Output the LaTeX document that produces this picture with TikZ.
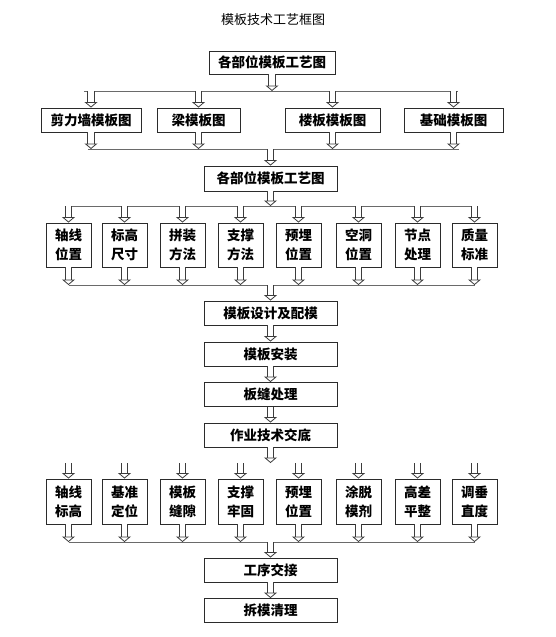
\documentclass[tikz,border=0pt]{standalone}
\usepackage{fontspec}
\setmainfont{Noto Sans CJK SC}
\usetikzlibrary{arrows.meta,positioning,calc}
\definecolor{boxline}{HTML}{2B2B2B}
\definecolor{arrline}{HTML}{3C3C3C}
\definecolor{busline}{HTML}{6A6A6A}
\tikzset{
  stepbox/.style={rectangle, draw=boxline, line width=0.9pt, fill=white, align=center,
                  inner sep=0pt, font=\fontsize{13.5}{19}\selectfont\bfseries},
  wide/.style={stepbox, minimum width=133pt, minimum height=24pt},
  small/.style={stepbox, minimum width=45pt, minimum height=44pt},
  hollow/.style={draw=arrline, line width=0.8pt, double=white, double distance=5.5pt,
                 -{Triangle[open, width=13pt, length=5.5pt, line width=0.8pt]}},
  bus/.style={draw=busline, line width=0.8pt},
}
\begin{document}
\begin{tikzpicture}[x=1pt, y=-1pt]
    \useasboundingbox (0,0) rectangle (555,637);
    \node[font=\fontsize{13}{15}\selectfont] (title) at (273,20) {模板技术工艺框图};
    \node[wide, minimum width=126pt, minimum height=23pt] (plan) at (272,62.5) {各部位模板工艺图};
    % drawings of each part
    \node[stepbox, minimum width=100pt, minimum height=24pt] (wall) at (91,120) {剪力墙模板图};
    \node[stepbox, minimum width=83pt, minimum height=24pt] (beam) at (198.5,120) {梁模板图};
    \node[stepbox, minimum width=95pt, minimum height=24pt] (slab) at (332.5,120) {楼板模板图};
    \node[stepbox, minimum width=99pt, minimum height=24pt] (found) at (453.5,120) {基础模板图};
    \node[wide, minimum height=25pt] (plan2) at (270.5,178.5) {各部位模板工艺图};
    % contents
    \node[small] (axis) at (68.5,245) {轴线\\位置};
    \node[small] (level) at (124.5,245) {标高\\尺寸};
    \node[small] (assem) at (182.5,245) {拼装\\方法};
    \node[small] (supp) at (240.5,245) {支撑\\方法};
    \node[small] (embed) at (298.5,245) {预埋\\位置};
    \node[small] (hole) at (358.5,245) {空洞\\位置};
    \node[small] (joint) at (417.5,245) {节点\\处理};
    \node[small] (qual) at (474.5,245) {质量\\标准};
    % main line
    \node[wide] (design) at (270.5,313) {模板设计及配模};
    \node[wide] (install) at (270.5,354) {模板安装};
    \node[wide] (seam) at (270.5,394.5) {板缝处理};
    \node[wide] (brief) at (270.5,435) {作业技术交底};
    % checks
    \node[small, minimum height=45pt] (axislev) at (68.5,501.5) {轴线\\标高};
    \node[small, minimum height=45pt] (datum) at (124.5,501.5) {基准\\定位};
    \node[small, minimum height=45pt] (gap) at (182.5,501.5) {模板\\缝隙};
    \node[small, minimum height=45pt] (firm) at (240.5,501.5) {支撑\\牢固};
    \node[small, minimum height=45pt] (embed2) at (298.5,501.5) {预埋\\位置};
    \node[small, minimum height=45pt] (oil) at (358.5,501.5) {涂脱\\模剂};
    \node[small, minimum height=45pt] (flat) at (417.5,501.5) {高差\\平整};
    \node[small, minimum height=45pt] (plumb) at (474.5,501.5) {调垂\\直度};
    \node[wide] (handover) at (270.5,570) {工序交接};
    \node[wide] (strip) at (270.5,610.5) {拆模清理};

    \coordinate (bus1) at (0,91);   \coordinate (bus2) at (0,149);
    \coordinate (bus3) at (0,206);  \coordinate (bus4) at (0,285);
    \coordinate (top6) at (0,463);  \coordinate (bus6) at (0,542);
    \draw[bus] ($(wall.north |- bus1)+(-7,0)$) -- ($(found.north |- bus1)+(4,0)$);
    \draw[bus] ($(wall.south |- bus2)+(-3,0)$) -- ($(found.south |- bus2)+(5,0)$);
    \draw[bus] ($(axis.north |- bus3)+(-4,0)$) -- ($(qual.north |- bus3)+(1,0)$);
    \draw[bus] (axis.south |- bus4) -- (qual.south |- bus4);
    \draw[bus] (axislev.south |- bus6) -- (plumb.south |- bus6);

    \draw[hollow] (plan.south) -- (plan.south |- bus1);
    \foreach \n in {wall,beam,slab,found} {
      \draw[hollow] (\n.north |- bus1) -- (\n.north);
      \draw[hollow] (\n.south) -- (\n.south |- bus2);
    }
    \draw[hollow] (plan2.north |- bus2) -- (plan2.north);
    \draw[hollow] (plan2.south) -- (plan2.south |- bus3);
    \foreach \n in {axis,level,assem,supp,embed,hole,joint,qual} {
      \draw[hollow] (\n.north |- bus3) -- (\n.north);
      \draw[hollow] (\n.south) -- (\n.south |- bus4);
    }
    \draw[hollow] (design.north |- bus4) -- (design.north);
    \draw[hollow] (design) -- (install);
    \draw[hollow] (install) -- (seam);
    \draw[hollow] (seam) -- (brief);
    \draw[hollow] (brief.south) -- (brief.south |- top6);
    \foreach \n in {axislev,datum,gap,firm,embed2,oil,flat,plumb} {
      \draw[hollow] (\n.north |- top6) -- (\n.north);
      \draw[hollow] (\n.south) -- (\n.south |- bus6);
    }
    \draw[hollow] (handover.north |- bus6) -- (handover.north);
    \draw[hollow] (handover) -- (strip);
\end{tikzpicture}
\end{document}
